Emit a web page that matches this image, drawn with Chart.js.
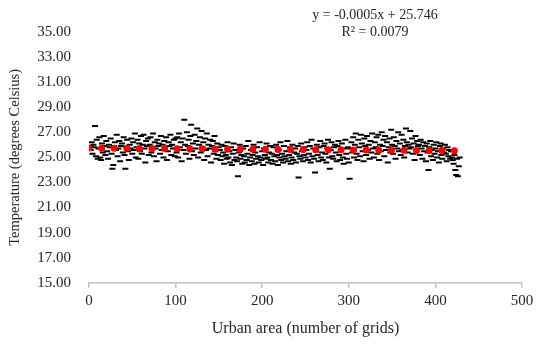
<!DOCTYPE html>
<html lang="en">
<head>
    <meta charset="UTF-8">
    <title>Urban area vs temperature</title>
    <script src="https://cdn.jsdelivr.net/npm/chart.js"></script>
    <style>
        body { margin: 0; background: #fff; }
        .chart-wrapper { position: relative; width: 544px; height: 345px; }
    </style>
</head>
<body>
    <div class="chart-wrapper">
        <canvas id="tempChart"></canvas>
    </div>

<script>
    // temperature per urban grid, grid number = index + 1
    const temperatures = [
        25.9, 25.6, 26.2, 25.3, 26.0, 25.8, 27.5, 25.1, 26.4, 24.9,
        25.7, 26.6, 25.0, 24.8, 26.1, 25.4, 26.7, 25.9, 25.2, 26.3,
        25.5, 24.9, 26.0, 25.8, 26.5, 25.3, 24.1, 24.4, 25.9, 26.2,
        25.6, 26.8, 25.1, 25.7, 26.3, 24.7, 25.9, 26.1, 25.4, 26.6,
        25.2, 24.1, 25.8, 26.4, 25.5, 24.8, 26.0, 25.7, 26.5, 25.3,
        26.2, 25.6, 26.9, 25.0, 25.8, 26.4, 24.9, 26.1, 25.5, 26.7,
        25.3, 26.0, 26.8, 25.7, 24.6, 26.3, 25.9, 26.5, 25.2, 26.0,
        26.6, 25.4, 25.8, 26.9, 25.1, 26.2, 25.7, 24.7, 26.4, 25.9,
        26.1, 25.3, 26.7, 25.6, 26.0, 25.0, 26.3, 25.8, 26.6, 24.8,
        25.5, 26.2, 25.9, 26.8, 25.2, 26.0, 25.7, 26.4, 25.1, 26.5,
        25.4, 26.6, 25.0, 26.9, 25.8, 26.2, 24.7, 26.5, 25.6, 28.0,
        26.0, 25.3, 27.0, 25.9, 26.4, 24.9, 26.7, 27.6, 25.5, 26.1,
        25.2, 26.8, 25.7, 26.3, 27.3, 25.0, 26.0, 26.6, 25.4, 27.1,
        25.8, 26.2, 24.8, 26.5, 25.6, 26.9, 25.1, 26.0, 25.7, 26.4,
        24.6, 25.9, 26.3, 25.3, 26.7, 25.5, 24.9, 26.1, 25.2, 25.8,
        25.6, 24.8, 26.0, 25.1, 25.4, 24.5, 25.9, 25.2, 24.9, 26.2,
        25.0, 25.5, 24.6, 25.8, 24.4, 25.3, 26.1, 24.8, 25.6, 25.0,
        24.7, 23.5, 25.4, 26.0, 24.9, 25.2, 24.5, 25.7, 25.1, 24.6,
        25.9, 24.8, 25.3, 26.3, 24.4, 25.0, 25.6, 24.7, 25.2, 26.0,
        24.5, 25.4, 24.9, 25.8, 25.1, 24.6, 26.2, 25.0, 24.8, 25.5,
        24.4, 25.7, 25.2, 24.9, 26.1, 25.0, 24.6, 25.4, 25.9, 24.8,
        25.3, 24.5, 25.8, 25.1, 24.7, 26.0, 25.2, 24.4, 25.6, 25.0,
        26.2, 24.8, 25.3, 24.6, 25.9, 25.1, 24.9, 25.5, 26.3, 24.7,
        25.2, 25.8, 24.5, 25.0, 26.0, 24.8, 25.4, 25.7, 24.6, 25.3,
        25.9, 23.4, 25.1, 24.9, 26.1, 25.5, 24.7, 25.2, 25.8, 25.0,
        25.6, 26.2, 24.8, 25.3, 25.9, 24.6, 26.4, 25.1, 25.7, 24.9,
        23.8, 25.5, 26.0, 25.2, 24.7, 25.8, 26.3, 25.0, 25.4, 24.8,
        25.9, 26.1, 25.3, 24.6, 25.7, 26.4, 25.0, 24.1, 25.6, 26.2,
        25.1, 24.9, 25.8, 26.0, 25.4, 24.7, 25.9, 26.3, 25.2, 24.8,
        25.6, 26.1, 25.0, 24.5, 25.7, 26.4, 25.3, 24.9, 25.8, 24.6,
        23.3, 25.7, 26.2, 25.4, 26.6, 25.0, 26.0, 26.9, 25.3, 24.8,
        26.4, 25.8, 25.1, 26.8, 26.1, 25.5, 24.7, 26.5, 25.9, 25.2,
        26.7, 25.6, 26.0, 24.9, 26.3, 25.4, 26.9, 25.7, 25.0, 26.2,
        25.8, 26.6, 25.3, 26.8, 24.8, 26.0, 25.5, 27.0, 25.9, 26.4,
        25.1, 26.7, 25.6, 26.2, 24.6, 25.8, 26.5, 25.4, 27.2, 26.0,
        25.3, 26.6, 25.9, 24.9, 26.3, 25.7, 27.0, 25.5, 26.1, 25.2,
        26.8, 25.6, 26.4, 25.0, 25.9, 27.3, 26.2, 25.4, 26.0, 25.7,
        27.1, 25.8, 26.5, 25.3, 26.1, 24.8, 26.7, 25.6, 26.3, 25.9,
        26.0, 25.2, 26.4, 25.7, 24.9, 26.2, 25.5, 25.9, 24.7, 26.1,
        25.4, 24.0, 25.8, 26.3, 25.1, 25.6, 24.8, 26.0, 25.3, 25.7,
        26.2, 25.0, 25.5, 24.6, 25.9, 26.1, 25.2, 24.9, 25.7, 25.4,
        26.0, 25.3, 24.7, 25.8, 25.1, 25.6, 24.9, 25.5, 25.0, 24.8,
        24.5, 25.2, 24.0, 23.6, 24.9, 23.5, 24.3, 25.0
    ];

    // linear trend as reported on the chart
    const trendSlope = -0.0005;
    const trendIntercept = 25.746;
    const trendRange = [0, 428];

    const yTicks = [15, 17, 19, 21, 23, 25, 27, 29, 31, 33, 35];
    const xTicks = [0, 100, 200, 300, 400, 500];

    const equationLines = ['y = -0.0005x + 25.746', 'R\u00B2 = 0.0079'];

    const pontos = temperatures.map((t, i) => ({ x: i + 1, y: t }));
    const tendencia = trendRange.map(x => ({ x: x, y: trendSlope * x + trendIntercept }));

    const serif = 'Liberation Serif';

    const equationPlugin = {
        id: 'equation',
        afterDraw(chart) {
            const ctx = chart.ctx;
            ctx.save();
            ctx.font = `14px "${serif}"`;
            ctx.fillStyle = '#262626';
            ctx.textAlign = 'center';
            ctx.textBaseline = 'middle';
            ctx.fillText(equationLines[0], 375, 15);
            ctx.fillText(equationLines[1], 375, 32);
            ctx.restore();
        }
    };

    new Chart(document.getElementById('tempChart'), {
        type: 'scatter',
        data: {
            datasets: [
                {
                    type: 'line',
                    label: 'Linear trend',
                    data: tendencia,
                    borderColor: '#ff0000',
                    borderWidth: 7,
                    borderDash: [0, 12.6],
                    borderCapStyle: 'round',
                    pointRadius: 0,
                    fill: false,
                    order: 0
                },
                {
                    label: 'Temperature',
                    data: pontos,
                    pointStyle: 'line',
                    pointRadius: 3,
                    pointBorderWidth: 2,
                    borderColor: '#000',
                    backgroundColor: '#000',
                    order: 1
                }
            ]
        },
        options: {
            responsive: true,
            maintainAspectRatio: false,
            animation: false,
            layout: { padding: { top: 32, right: 22, left: 4, bottom: 3 } },
            plugins: {
                legend: { display: false },
                tooltip: { enabled: false }
            },
            scales: {
                x: {
                    type: 'linear',
                    min: 0,
                    max: 500,
                    afterBuildTicks: axis => { axis.ticks = xTicks.map(v => ({ value: v })); },
                    grid: { drawOnChartArea: false, drawTicks: true, tickLength: 5, color: '#bfbfbf', lineWidth: 1.5 },
                    border: { display: true, color: '#bfbfbf', width: 1.5 },
                    ticks: { color: '#262626', font: { family: serif, size: 15 }, padding: 4 },
                    title: { display: true, text: 'Urban area (number of grids)', color: '#262626', font: { family: serif, size: 16 }, padding: { top: 5 } }
                },
                y: {
                    min: 15,
                    max: 35,
                    afterBuildTicks: axis => { axis.ticks = yTicks.map(v => ({ value: v })); },
                    afterFit: axis => { axis.width = 85; },
                    grid: { display: false },
                    border: { display: false },
                    ticks: { color: '#262626', font: { family: serif, size: 15 }, padding: 10, callback: v => v.toFixed(2) },
                    title: { display: true, text: 'Temperature (degrees Celsius)', color: '#262626', font: { family: serif, size: 14.5 }, padding: { top: 2, bottom: 4 } }
                }
            }
        },
        plugins: [equationPlugin]
    });
</script>
</body>
</html>
